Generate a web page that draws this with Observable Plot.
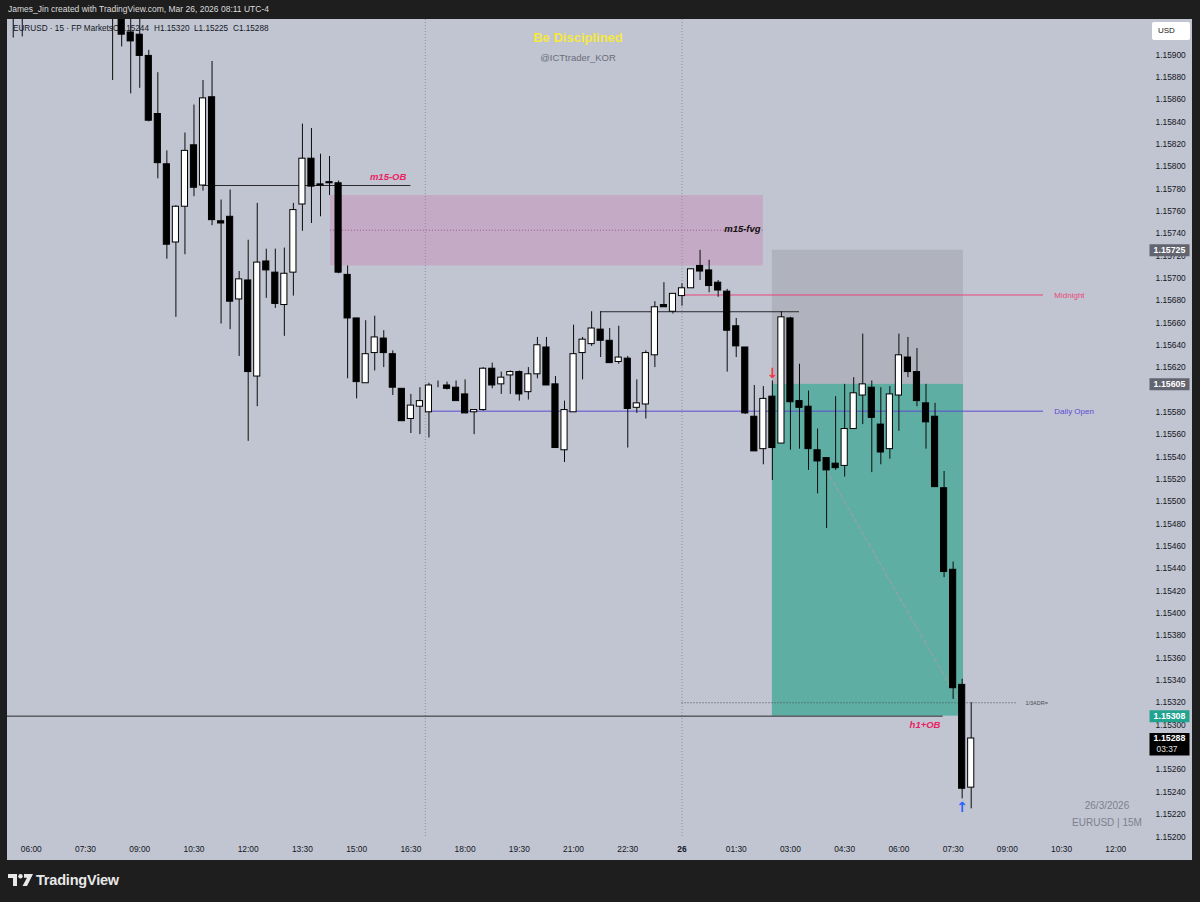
<!DOCTYPE html>
<html>
<head>
<meta charset="utf-8">
<script src="https://cdn.jsdelivr.net/npm/d3@7"></script>
<script src="https://cdn.jsdelivr.net/npm/@observablehq/plot@0.6"></script>
<style>
  html, body { margin: 0; padding: 0; background: #1e1e1f; }
  #wrap { position: relative; width: 1200px; height: 902px; overflow: hidden; background: #1e1e1f;
          font-family: "Liberation Sans", Arial, sans-serif; }
  #panel { position: absolute; left: 7px; top: 19px; width: 1185px; height: 841px; background: #c1c5d2; }
  #header { position: absolute; left: 8px; top: 4px; font-size: 8.5px; color: #dcdcdc; white-space: nowrap; }
  .leg { position: absolute; top: 24px; font-size: 8.2px; color: #131722; white-space: nowrap; }
  #title1 { position: absolute; left: 478px; width: 200px; top: 30px; text-align: center; font-size: 13px;
            font-weight: bold; color: #f5e83f; }
  #title2 { position: absolute; left: 478px; width: 200px; top: 52px; text-align: center; font-size: 9.5px; color: #6a6d7a; }
  #usd { position: absolute; left: 1152px; top: 22px; width: 38px; height: 18px; background: #ffffff; border-radius: 2px;
         font-size: 8px; color: #131722; line-height: 18px; box-sizing: border-box; padding-left: 6px; }
  .wm { position: absolute; left: 1047px; width: 120px; text-align: center; color: #7d808c; font-size: 10px; }
  #chart { position: absolute; left: 0; top: 0; }
  #logo { position: absolute; left: 8px; top: 872px; display: flex; align-items: center; }
  #logo span { font-size: 14.5px; font-weight: bold; color: #e8e8e8; margin-left: 3px; letter-spacing: -0.2px; }
</style>
</head>
<body>
<div id="wrap">
  <div id="panel"></div>
  <div id="header">James_Jin created with TradingView.com, Mar 26, 2026 08:11 UTC-4</div>
  <div class="leg" style="left:13px">EURUSD · 15 · FP Markets</div>
  <div class="leg" style="left:113px">O1.15244</div>
  <div class="leg" style="left:154px">H1.15320</div>
  <div class="leg" style="left:194px">L1.15225</div>
  <div class="leg" style="left:233px">C1.15288</div>
  <div id="title1">Be Disciplined</div>
  <div id="title2">@ICTtrader_KOR</div>
  <div class="wm" style="top:800px">26/3/2026</div>
  <div class="wm" style="top:817px">EURUSD | 15M</div>
  <div id="chart"></div>
  <div id="usd">USD</div>
  <div id="logo">
    <svg width="25" height="12" viewBox="0 0 25 12">
      <path d="M0 0 H9 V12 H5 V4 H0 Z" fill="#e8e8e8"/>
      <circle cx="12.5" cy="2.2" r="2.2" fill="#e8e8e8"/>
      <path d="M16 0 H25 L19 12 H14.5 L19 3.8 H16 Z" fill="#e8e8e8"/>
    </svg>
    <span>TradingView</span>
  </div>
</div>
<script>
// ---------- DATA ----------
// 15-minute candles; slot 0 = 06:00 (Mar 25), first candle at slot -2 (05:30)
const firstSlot = -2;
const open = [
  1.15970,1.15955,
  1.15965,1.15980,1.15998,1.15985,1.15970,1.15958,1.15975,1.15962,1.15950,
  1.15955,1.15945,1.15920,1.15918,1.15899,1.15847,1.15802,1.15732,1.15764,1.15819,
  1.15783,1.15862,1.15751,1.15755,1.15681,1.15698,1.15612,1.15715,1.15705,1.15676,
  1.15705,1.15766,1.15807,1.15784,1.15786,1.15785,1.15703,1.15664,1.15606,1.15633,
  1.15646,1.15632,1.15601,1.15574,1.15585,1.15580,1.15604,1.15604,1.15602,1.15596,
  1.15580,1.15582,1.15619,1.15605,1.15613,1.15616,1.15598,1.15614,1.15638,1.15605,
  1.15546,1.15580,1.15633,1.15641,1.15654,1.15644,1.15625,1.15628,1.15584,1.15587,
  1.15631,1.15676,1.15670,1.15684,1.15691,1.15711,1.15707,1.15696,1.15688,1.15657,
  1.15638,1.15576,1.15547,1.15594,1.15552,1.15664,1.15590,1.15585,1.15546,1.15539,
  1.15534,1.15532,1.15565,1.15595,1.15602,1.15569,1.15547,1.15595,1.15629,1.15616,
  1.15588,1.15576,1.15512,1.15439,1.15336,1.15244
];
const high = [
  1.15990,1.15985,
  1.15995,1.16010,1.16020,1.16002,1.15990,1.15985,1.15992,1.15980,1.15972,
  1.15975,1.15960,1.15945,1.15935,1.15904,1.15884,1.15814,1.15765,1.15830,1.15855,
  1.15877,1.15894,1.15770,1.15779,1.15706,1.15734,1.15767,1.15726,1.15726,1.15727,
  1.15767,1.15838,1.15834,1.15811,1.15809,1.15787,1.15711,1.15664,1.15662,1.15666,
  1.15653,1.15635,1.15601,1.15596,1.15602,1.15606,1.15608,1.15607,1.15608,1.15609,
  1.15582,1.15620,1.15624,1.15616,1.15617,1.15617,1.15620,1.15647,1.15647,1.15612,
  1.15590,1.15658,1.15647,1.15670,1.15670,1.15655,1.15657,1.15630,1.15609,1.15635,
  1.15679,1.15696,1.15686,1.15695,1.15708,1.15725,1.15716,1.15698,1.15690,1.15664,
  1.15638,1.15604,1.15603,1.15608,1.15670,1.15665,1.15623,1.15599,1.15565,1.15539,
  1.15594,1.15605,1.15611,1.15650,1.15608,1.15602,1.15603,1.15650,1.15647,1.15637,
  1.15605,1.15588,1.15527,1.15446,1.15341,1.15320
];
const low = [
  1.15915,1.15916,
  1.15950,1.15962,1.15975,1.15960,1.15948,1.15945,1.15955,1.15942,1.15938,
  1.15877,1.15907,1.15865,1.15870,1.15840,1.15789,1.15717,1.15665,1.15721,1.15773,
  1.15778,1.15747,1.15659,1.15654,1.15630,1.15554,1.15585,1.15682,1.15673,1.15648,
  1.15684,1.15742,1.15749,1.15755,1.15774,1.15704,1.15610,1.15592,1.15606,1.15617,
  1.15620,1.15595,1.15572,1.15561,1.15560,1.15557,1.15602,1.15600,1.15590,1.15579,
  1.15560,1.15581,1.15601,1.15596,1.15596,1.15590,1.15591,1.15610,1.15604,1.15548,
  1.15535,1.15580,1.15609,1.15639,1.15629,1.15624,1.15623,1.15548,1.15579,1.15574,
  1.15620,1.15674,1.15668,1.15675,1.15691,1.15698,1.15687,1.15683,1.15616,1.15629,
  1.15578,1.15545,1.15533,1.15519,1.15552,1.15546,1.15547,1.15528,1.15507,1.15476,
  1.15528,1.15522,1.15565,1.15569,1.15526,1.15533,1.15538,1.15563,1.15611,1.15585,
  1.15547,1.15513,1.15432,1.15323,1.15234,1.15225
];
const close = [
  1.15955,1.15965,
  1.15980,1.15998,1.15985,1.15970,1.15958,1.15975,1.15962,1.15950,1.15955,
  1.15945,1.15918,1.15912,1.15899,1.15841,1.15803,1.15730,1.15764,1.15814,1.15781,
  1.15861,1.15752,1.15749,1.15679,1.15699,1.15616,1.15714,1.15707,1.15677,1.15704,
  1.15761,1.15807,1.15782,1.15783,1.15785,1.15705,1.15664,1.15607,1.15632,1.15647,
  1.15633,1.15602,1.15572,1.15586,1.15590,1.15604,1.15604,1.15601,1.15590,1.15579,
  1.15582,1.15619,1.15604,1.15611,1.15616,1.15596,1.15614,1.15640,1.15604,1.15548,
  1.15582,1.15632,1.15645,1.15655,1.15644,1.15624,1.15629,1.15583,1.15588,1.15633,
  1.15674,1.15674,1.15686,1.15691,1.15708,1.15706,1.15693,1.15689,1.15653,1.15639,
  1.15579,1.15545,1.15592,1.15548,1.15665,1.15589,1.15584,1.15547,1.15536,1.15528,
  1.15530,1.15565,1.15597,1.15605,1.15575,1.15544,1.15596,1.15631,1.15616,1.15590,
  1.15571,1.15513,1.15437,1.15333,1.15243,1.15288
];

// price-axis labels that are visible (1.15280 and 1.15600 are hidden behind price tags)
const priceTicks = [1.15200,1.15220,1.15240,1.15260,1.15300,1.15320,1.15340,1.15360,1.15380,
  1.15400,1.15420,1.15440,1.15460,1.15480,1.15500,1.15520,1.15540,1.15560,1.15580,
  1.15620,1.15640,1.15660,1.15680,1.15700,1.15720,1.15740,1.15760,1.15780,
  1.15800,1.15820,1.15840,1.15860,1.15880,1.15900];
const timeTickSlots = [0,6,12,18,24,30,36,42,48,54,60,66,72,78,84,90,96,102,108,114,120];
const timeTickLabels = ["06:00","07:30","09:00","10:30","12:00","13:30","15:00","16:30","18:00","19:30",
  "21:00","22:30","26","01:30","03:00","04:30","06:00","07:30","09:00","10:30","12:00"];

// zones (x in 15-min slots, y in price)
const zoneNames = ["m15-fvg", "stop", "target"];
const zoneX1 = [33.1, 82.0, 82.0];
const zoneX2 = [81.0, 103.15, 103.15];
const zoneLow = [1.15711, 1.15605, 1.15308];
const zoneHigh = [1.15774, 1.15725, 1.15605];

// horizontal level lines
const levelNames = ["m15-OB", "h1+OB", "swing high", "Midnight", "Daily Open"];
const levelPrice = [1.15783, 1.15308, 1.15670, 1.15685, 1.15581];
const levelFrom = [19, -3, 63, 72, 44];
const levelTo = [42, 100.9, 85, 112, 112];

const sessionBreaks = [43.6, 72];
const adrLevel = {price: 1.15320, from: 72, to: 109};
const fvgMid = {price: 1.15743, from: 33.1, to: 81.0};
const tradePath = [{slot: 88, price: 1.15528}, {slot: 102.6, price: 1.15322}];

const noteLabels = ["m15-OB", "m15-fvg", "h1+OB"];
const noteSlot = [41.5, 80.7, 100.6];
const notePrice = [1.15791, 1.15744, 1.15300];

const levelLabels = ["Midnight", "Daily Open"];
const levelLabelSlot = [113.2, 113.2];
const levelLabelPrice = [1.15685, 1.15581];

const arrowGlyphs = ["↓", "↑"];
const arrowSlot = [82.0, 103.0];
const arrowPrice = [1.15615, 1.15226];

const tagPrices = [1.15725, 1.15605, 1.15308];
const tagText = ["1.15725", "1.15605", "1.15308"];
const lastPrice = 1.15288, lastCountdown = "03:37";

// ---------- TABLES ----------
const candles = open.map((o, i) => ({slot: firstSlot + i, open: o, high: high[i], low: low[i], close: close[i]}));
const zoneColors = {"m15-fvg": "#c4aac4", "stop": "#b0b2bd", "target": "#5eaea3"};
const zones = zoneNames.map((n, i) => ({name: n, x1: zoneX1[i], x2: zoneX2[i], y1: zoneLow[i], y2: zoneHigh[i], color: zoneColors[n]}));
const levelColors = {"m15-OB": "#2b2b2e", "h1+OB": "#2b2b2e", "swing high": "#2b2b2e", "Midnight": "#e8457a", "Daily Open": "#5b4bd1"};
const levels = levelNames.map((n, i) => ({name: n, y: levelPrice[i], x1: levelFrom[i], x2: levelTo[i], color: levelColors[n]}));
const noteColors = {"m15-OB": "#e91e63", "m15-fvg": "#111111", "h1+OB": "#e91e63"};
const notes = noteLabels.map((t, i) => ({text: t, slot: noteSlot[i], price: notePrice[i], color: noteColors[t]}));
const lvlLabels = levelLabels.map((t, i) => ({text: t, slot: levelLabelSlot[i], price: levelLabelPrice[i], color: levelColors[t]}));
const arrowColors = {"↓": "#f23645", "↑": "#2962ff"};
const arrows = arrowGlyphs.map((g, i) => ({text: g, slot: arrowSlot[i], price: arrowPrice[i], color: arrowColors[g]}));
const tagColors = ["#62656f", "#62656f", "#22a38f"];
const tags = tagPrices.map((p, i) => ({price: p, text: tagText[i], color: tagColors[i]}));

function boxSymbol(w, top, bottom) {
  return {draw(ctx) {
    ctx.moveTo(-w / 2, -top); ctx.lineTo(w / 2, -top); ctx.lineTo(w / 2, bottom); ctx.lineTo(-w / 2, bottom); ctx.closePath();
  }};
}

const font = "Liberation Sans, Arial, sans-serif";
const chart = Plot.plot({
  width: 1200,
  height: 902,
  marginTop: 19,
  marginLeft: 7,
  marginRight: 58,
  marginBottom: 64,
  style: {background: "transparent", fontFamily: font, fontSize: "8.4px", color: "#131722", overflow: "visible"},
  x: {type: "linear", domain: [0, 120], range: [30.8, 1115.3]},
  y: {type: "linear", domain: [1.152, 1.159], range: [836.3, 54.3]},
  color: {type: "identity"},
  marks: [
    Plot.rect(zones, {x1: "x1", x2: "x2", y1: "y1", y2: "y2", fill: "color", clip: true}),
    Plot.ruleY([fvgMid], {y: "price", x1: "from", x2: "to", stroke: "#9c5a90", strokeWidth: 1, strokeDasharray: "1,2", clip: true}),
    Plot.ruleX(sessionBreaks, {stroke: "#8a8ea0", strokeWidth: 1, strokeDasharray: "1,2"}),
    Plot.ruleY(levels, {y: "y", x1: "x1", x2: "x2", stroke: "color", strokeWidth: 1, clip: true}),
    Plot.ruleY([adrLevel], {y: "price", x1: "from", x2: "to", stroke: "#4a4c55", strokeWidth: 1, strokeDasharray: "1,2", clip: true}),
    Plot.line(tradePath, {x: "slot", y: "price", stroke: "#93a3a6", strokeWidth: 1.2, strokeDasharray: "4,3"}),
    // candles
    Plot.ruleX(candles, {x: "slot", y1: "low", y2: "high", stroke: "#0c0c0c", strokeWidth: 1, clip: true}),
    Plot.rect(candles, {
      x1: d => d.slot - 0.34, x2: d => d.slot + 0.34, y1: "open", y2: "close",
      fill: d => d.close >= d.open ? "#ffffff" : "#000000", stroke: "#000000", strokeWidth: 1, clip: true
    }),
    // annotations
    Plot.text(notes, {x: "slot", y: "price", text: "text", fill: "color", textAnchor: "end", fontSize: 9.5,
      fontWeight: "bold", fontStyle: "italic"}),
    Plot.text(lvlLabels, {x: "slot", y: "price", text: "text", fill: "color", textAnchor: "start", fontSize: 8}),
    Plot.text([adrLevel], {x: d => d.to + 1, y: "price", text: () => "1/3ADR=", fill: "#4a4c55", textAnchor: "start", fontSize: 5.5}),
    Plot.text(arrows, {x: "slot", y: "price", text: "text", fill: "color", fontSize: 14, fontWeight: "bold",
      fontFamily: "DejaVu Sans, sans-serif"}),
    // axes
    Plot.axisY(priceTicks, {anchor: "right", tickSize: 0, tickPadding: 13, tickFormat: d => d.toFixed(5),
      fill: "#131722", fontSize: 8.4, label: null}),
    Plot.axisX(timeTickSlots.filter(s => timeTickLabels[timeTickSlots.indexOf(s)] !== "26"), {
      anchor: "bottom", tickSize: 0, tickPadding: 8, label: null, fill: "#131722", fontSize: 8.4,
      tickFormat: s => timeTickLabels[timeTickSlots.indexOf(s)]}),
    Plot.axisX(timeTickSlots.filter(s => timeTickLabels[timeTickSlots.indexOf(s)] === "26"), {
      anchor: "bottom", tickSize: 0, tickPadding: 8, label: null, fill: "#131722", fontSize: 8.4, fontWeight: "bold",
      tickFormat: s => timeTickLabels[timeTickSlots.indexOf(s)]}),
    // price tags on the axis
    Plot.dot(tags, {y: "price", frameAnchor: "right", dx: 27, symbol: boxSymbol(40, 6, 6), fill: "color", stroke: null, r: 5}),
    Plot.text(tags, {y: "price", frameAnchor: "right", dx: 27, textAnchor: "middle", text: "text", fill: "#ffffff",
      fontSize: 8.8, fontWeight: "bold"}),
    Plot.dot([lastPrice], {y: d => d, frameAnchor: "right", dx: 27, symbol: boxSymbol(40, 5.5, 17), fill: "#000000", stroke: null, r: 5}),
    Plot.text([lastPrice], {y: d => d, frameAnchor: "right", dx: 27, textAnchor: "middle", text: d => d.toFixed(5),
      fill: "#ffffff", fontSize: 8.8, fontWeight: "bold"}),
    Plot.text([lastPrice], {y: d => d, frameAnchor: "right", dx: 14, dy: 11, textAnchor: "start", text: () => lastCountdown,
      fill: "#e0e0e0", fontSize: 8.4})
  ]
});
document.getElementById("chart").appendChild(chart);
</script>
</body>
</html>
